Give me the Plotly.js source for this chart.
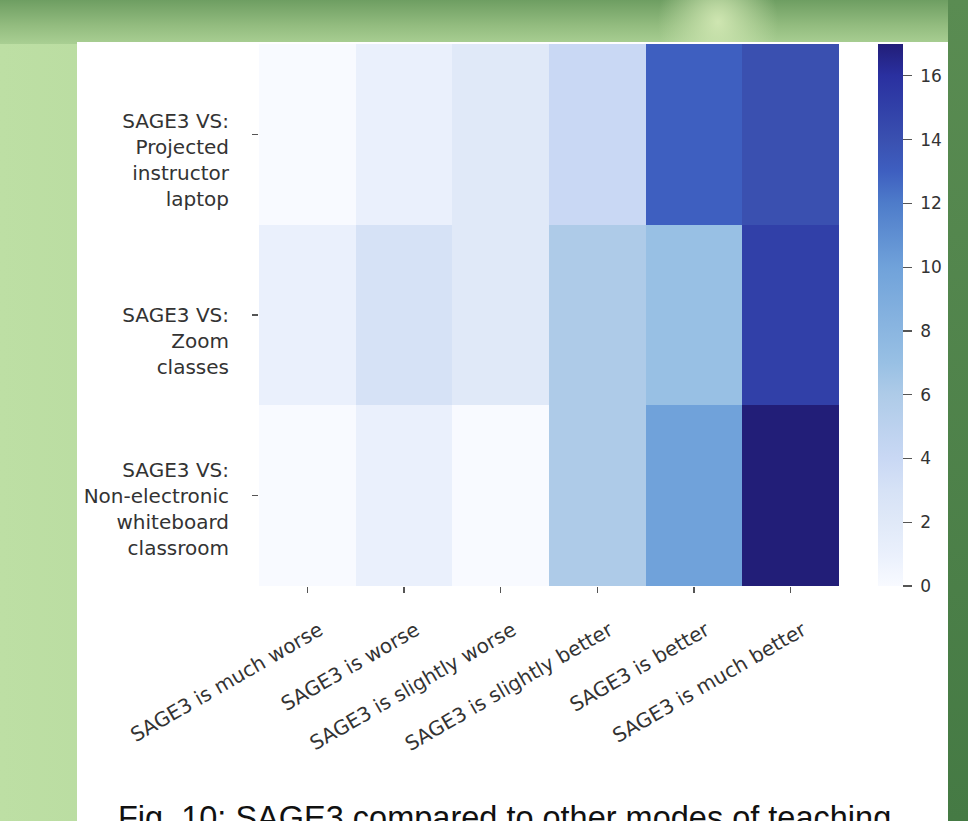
<!DOCTYPE html>
<html>
<head>
<meta charset="utf-8">
<script src="https://cdn.plot.ly/plotly-3.0.1.min.js"></script>
<style>
  html, body { margin: 0; padding: 0; width: 968px; height: 821px; overflow: hidden; }
  body {
    background: linear-gradient(to right, #bddfa4 0%, #b2d69a 40%, #9cc585 70%, #4a7c47 100%);
    position: relative;
  }
  #topband {
    position: absolute; left: 0; top: 0; width: 968px; height: 44px;
    background:
      radial-gradient(ellipse 60px 70px at 718px 22px, rgba(210,232,180,0.95), rgba(210,232,180,0) 100%),
      linear-gradient(to bottom, #6e9e62 0%, #94bd80 60%, #a9cf93 100%);
  }
  #rightband {
    position: absolute; left: 948px; top: 0; width: 20px; height: 821px;
    background: linear-gradient(to bottom, #5a8c52, #457a44);
  }
  #panel {
    position: absolute; left: 77px; top: 42px; width: 871px; height: 779px;
    background: #ffffff;
  }
  #chart { position: absolute; left: 0; top: 0; width: 968px; height: 821px; }
</style>
</head>
<body>
<div id="topband"></div>
<div id="rightband"></div>
<div id="panel"></div>
<div id="chart"></div>
<script>
// ---- data ----
const responseCategories = [
  "SAGE3 is much worse",
  "SAGE3 is worse",
  "SAGE3 is slightly worse",
  "SAGE3 is slightly better",
  "SAGE3 is better",
  "SAGE3 is much better"
];
const comparisonModes = [
  "SAGE3 VS: Projected instructor laptop",
  "SAGE3 VS: Zoom classes",
  "SAGE3 VS: Non-electronic whiteboard classroom"
];
// multi-line tick labels (leading line breaks reproduce the original's lowered label blocks)
const comparisonLabels = [
  "<br><br>SAGE3 VS:<br>Projected<br>instructor<br>laptop",
  "<br><br>SAGE3 VS:<br>Zoom<br>classes",
  "<br>SAGE3 VS:<br>Non-electronic<br>whiteboard<br>classroom"
];
const projectedLaptopCounts = [0, 1, 2, 4, 13, 14];
const zoomClassesCounts     = [1, 3, 2, 6, 7, 15];
const whiteboardCounts      = [0, 1, 0, 6, 10, 17];
const colorbarTicks = [0, 2, 4, 6, 8, 10, 12, 14, 16];
const chartCaption = "Fig. 10: SAGE3 compared to other modes of teaching";

// ---- chart ----
const zMax = 17;
const stops = [
  [0, "#f8faff"], [1, "#eaf0fc"], [2, "#e0e9f8"], [3, "#d6e2f6"], [4, "#c9d8f4"],
  [6, "#aecbe8"], [7, "#98c0e4"], [10, "#70a2da"], [12, "#4e7cca"], [13, "#3e5fc0"],
  [14, "#3a50b0"], [15, "#3140a8"], [16, "#2a30a0"], [17, "#221e78"]
];
const colorscale = stops.map(s => [s[0] / zMax, s[1]]);

const trace = {
  type: "heatmap",
  x: responseCategories,
  y: comparisonModes,
  z: [projectedLaptopCounts, zoomClassesCounts, whiteboardCounts],
  zmin: 0,
  zmax: zMax,
  colorscale: colorscale,
  xgap: 0, ygap: 0,
  hoverongaps: false,
  colorbar: {
    x: (878 - 259) / 580, xanchor: "left", xpad: 0,
    y: 0.5, yanchor: "middle", ypad: 0,
    len: 1, lenmode: "fraction",
    thickness: 25, thicknessmode: "pixels",
    outlinewidth: 0,
    tickmode: "array", tickvals: colorbarTicks,
    ticktext: colorbarTicks.map(v => "\u00a0" + String(v)),
    ticks: "outside", ticklen: 9, tickwidth: 1.2, tickcolor: "#555",
    tickfont: { family: "DejaVu Sans", size: 17, color: "#333" }
  }
};

const layout = {
  width: 968, height: 821,
  margin: { l: 259, r: 129, t: 44, b: 235, pad: 0 },
  paper_bgcolor: "rgba(0,0,0,0)",
  plot_bgcolor: "rgba(0,0,0,0)",
  font: { family: "DejaVu Sans", color: "#333" },
  title: {
    text: chartCaption,
    font: { family: "Liberation Sans", size: 32.5, color: "#111" },
    xref: "container", yref: "container",
    x: 118 / 968, xanchor: "left",
    y: (821 - 806) / 821, yanchor: "top"
  },
  xaxis: {
    type: "category",
    tickangle: -30,
    ticks: "outside", ticklen: 6, tickwidth: 1.2, tickcolor: "#555",
    ticklabelstandoff: 18,
    ticklabelshift: 12,
    tickfont: { family: "DejaVu Sans", size: 20, color: "#333" },
    showgrid: false, zeroline: false, showline: false,
    fixedrange: true
  },
  yaxis: {
    type: "category",
    autorange: "reversed",
    tickmode: "array",
    tickvals: comparisonModes,
    ticktext: comparisonLabels,
    ticks: "outside", ticklen: 6, tickwidth: 1.2, tickcolor: "#555",
    ticklabelstandoff: 19,
    tickfont: { family: "DejaVu Sans", size: 20, color: "#333" },
    showgrid: false, zeroline: false, showline: false,
    fixedrange: true
  }
};

Plotly.newPlot("chart", [trace], layout, { displayModeBar: false, staticPlot: true });
</script>
</body>
</html>
